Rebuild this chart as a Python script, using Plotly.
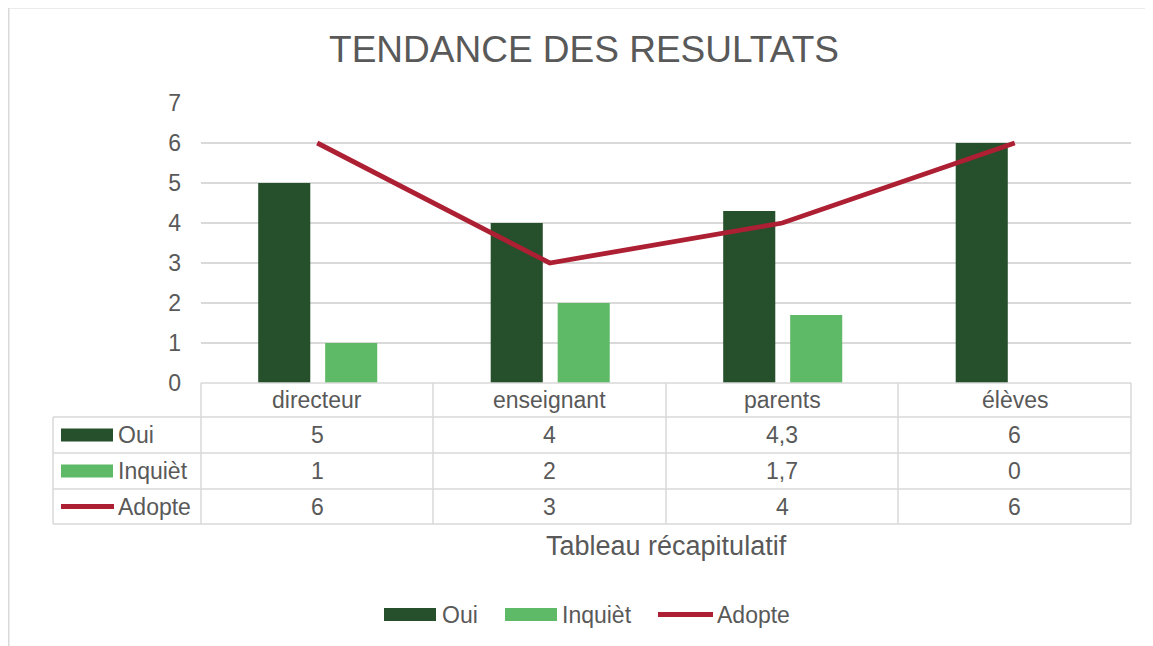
import plotly.graph_objects as go

categories = ["directeur", "enseignant", "parents", "élèves"]
oui = [5, 4, 4.3, 6]
inquiet = [1, 2, 1.7, 0]
adopte = [6, 3, 4, 6]
series_names = ["Oui", "Inquièt", "Adopte"]
y_ticks = [0, 1, 2, 3, 4, 5, 6, 7]

C_OUI = "#264F2C"
C_INQ = "#5FBA68"
C_ADO = "#AD1F32"
TXT = "#595959"
GRID = "#D9D9D9"
FONT = "Liberation Sans, Arial, sans-serif"
FS = 23

OFF = 8  # browser default body margin
W, H = 1153 - OFF, 646 - OFF
# plot area in page pixels
L, R, T, B = 201, 1131, 103, 383


def px(x):
    return (x - L) / (R - L)


def py(y):
    return (B - y) / (B - T)


fig = go.Figure()
fig.add_trace(go.Bar(x=categories, y=oui, name=series_names[0], marker_color=C_OUI,
                     marker_line_width=0, width=0.224, offset=-0.254, showlegend=False))
fig.add_trace(go.Bar(x=categories, y=inquiet, name=series_names[1], marker_color=C_INQ,
                     marker_line_width=0, width=0.224, offset=0.034, showlegend=False))
fig.add_trace(go.Scatter(x=categories, y=adopte, name=series_names[2], mode="lines",
                         line=dict(color=C_ADO, width=4.8), showlegend=False))

shapes = []


def hline(x0, x1, y, color=GRID, w=1.5):
    shapes.append(dict(type="line", xref="paper", yref="paper", x0=px(x0), x1=px(x1),
                       y0=py(y), y1=py(y), line=dict(color=color, width=w), layer="above"))


def vline(x, y0, y1, color=GRID, w=1.5):
    shapes.append(dict(type="line", xref="paper", yref="paper", x0=px(x), x1=px(x),
                       y0=py(y0), y1=py(y1), line=dict(color=color, width=w), layer="above"))


# outer chart border (top & left visible)
hline(OFF + 0.5, 1153 + 20, OFF - 1 + 0.5, w=2)
vline(OFF + 0.5, OFF - 0.5, 646 + 20, w=2)

# data table grid
col_edges = [201, 433, 666, 898, 1131]
row_edges = [383, 417, 453, 489, 524]
hline(201, 1131, 383)
for y in row_edges[1:]:
    hline(53, 1131, y)
for x in col_edges:
    vline(x, 383, 524)
vline(53, 417, 524)

annotations = []


def text(x, y, s, size=FS, xanchor="center", yanchor="middle"):
    annotations.append(dict(xref="paper", yref="paper", x=px(x), y=py(y), text=s,
                            showarrow=False, xanchor=xanchor, yanchor=yanchor,
                            font=dict(family=FONT, size=size, color=TXT)))


def fmt(v):
    return f"{v:g}".replace(".", ",")


centers = [(col_edges[i] + col_edges[i + 1]) / 2 for i in range(4)]
row_c = [(row_edges[i] + row_edges[i + 1]) / 2 for i in range(4)]
for i, c in enumerate(categories):
    text(centers[i], row_c[0], c)
for r, vals in enumerate([oui, inquiet, adopte]):
    for i, v in enumerate(vals):
        text(centers[i], row_c[r + 1], fmt(v))

# legend keys inside table
for r, (name, col) in enumerate(zip(series_names, [C_OUI, C_INQ, C_ADO])):
    yc = row_c[r + 1]
    if r < 2:
        shapes.append(dict(type="rect", xref="paper", yref="paper", x0=px(61), x1=px(113),
                           y0=py(yc - 6.5), y1=py(yc + 6.5), fillcolor=col,
                           line=dict(width=0), layer="above"))
    else:
        hline(61, 114, yc, color=col, w=4.8)
    text(116, yc, name, xanchor="left")

# axis title
text(666, 546, "Tableau récapitulatif", size=27)

# bottom legend
ly = 614.5
shapes.append(dict(type="rect", xref="paper", yref="paper", x0=px(384), x1=px(436),
                   y0=py(ly - 6.5), y1=py(ly + 6.5), fillcolor=C_OUI, line=dict(width=0)))
text(440, ly, series_names[0], xanchor="left")
shapes.append(dict(type="rect", xref="paper", yref="paper", x0=px(505), x1=px(557),
                   y0=py(ly - 6.5), y1=py(ly + 6.5), fillcolor=C_INQ, line=dict(width=0)))
text(560, ly, series_names[1], xanchor="left")
hline(658, 713, ly, color=C_ADO, w=4.8)
text(715, ly, series_names[2], xanchor="left")

fig.update_layout(
    width=W, height=H,
    margin=dict(l=L - OFF, r=1153 - R, t=T - OFF, b=646 - B, pad=0),
    paper_bgcolor="white", plot_bgcolor="white",
    barmode="overlay",
    title=dict(text="TENDANCE DES RESULTATS", xref="container", yref="container",
               x=(584 - OFF) / W, y=1 - (49 - OFF) / H, xanchor="center", yanchor="middle",
               font=dict(family=FONT, size=37, color=TXT)),
    xaxis=dict(range=[-0.5, 3.5], showticklabels=False, showgrid=False,
               zeroline=False, showline=False, ticks=""),
    yaxis=dict(range=[0, 7], tickvals=y_ticks, showgrid=True, gridcolor=GRID,
               gridwidth=1.5, zeroline=False, showline=False, ticks="",
               ticklabelstandoff=19,
               tickfont=dict(family=FONT, size=FS, color=TXT)),
    shapes=shapes, annotations=annotations,
    showlegend=False,
)

fig.write_html("out.html")
